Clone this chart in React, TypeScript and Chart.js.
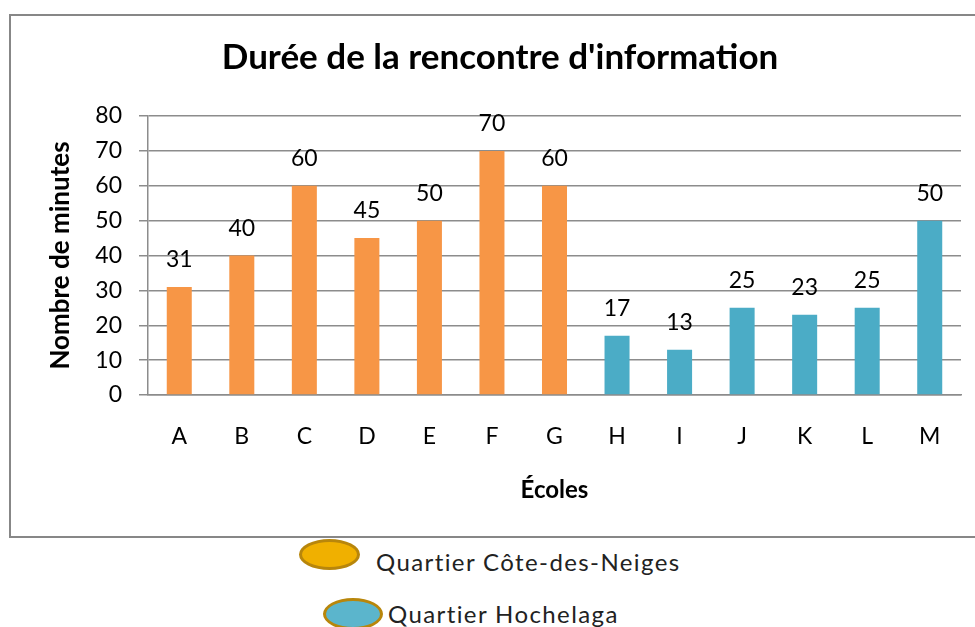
import React, { useEffect, useRef } from 'react';
import { Chart, registerables } from 'chart.js';

Chart.register(...registerables);

const schools = ['A', 'B', 'C', 'D', 'E', 'F', 'G', 'H', 'I', 'J', 'K', 'L', 'M'];
const coteDesNeiges = [31, 40, 60, 45, 50, 70, 60, null, null, null, null, null, null];
const hochelaga = [null, null, null, null, null, null, null, 17, 13, 25, 23, 25, 50];
const seriesNames = ['Quartier Côte-des-Neiges', 'Quartier Hochelaga'];
const chartTitle = "Durée de la rencontre d'information";
const yAxisTitle = 'Nombre de minutes';
const xAxisTitle = 'Écoles';
const yMin = 0;
const yMax = 80;
const yStep = 10;

const FONT = 'Lato, "Open Sans", sans-serif';
const GRID = '#8c8c8c';

const valueLabels = {
  id: 'valueLabels',
  afterDatasetsDraw(chart: any) {
    const ctx = chart.ctx;
    ctx.save();
    ctx.font = `23px ${FONT}`;
    ctx.fillStyle = '#000';
    ctx.textAlign = 'center';
    ctx.textBaseline = 'middle';
    chart.data.datasets.forEach((ds: any, di: number) => {
      const meta = chart.getDatasetMeta(di);
      meta.data.forEach((el: any, i: number) => {
        const v = ds.data[i];
        if (v === null || v === undefined) return;
        ctx.fillText(String(v), el.x, el.y - 27);
      });
    });
    ctx.restore();
  },
};

export default function App() {
  const ref = useRef<HTMLCanvasElement>(null);

  useEffect(() => {
    if (!ref.current) return;
    const chart = new Chart(ref.current, {
      type: 'bar',
      data: {
        labels: schools,
        datasets: [
          {
            label: seriesNames[0],
            data: coteDesNeiges,
            backgroundColor: '#F79646',
            categoryPercentage: 0.8,
            barPercentage: 0.5,
            skipNull: true,
          } as any,
          {
            label: seriesNames[1],
            data: hochelaga,
            backgroundColor: '#4BACC6',
            categoryPercentage: 0.8,
            barPercentage: 0.5,
            skipNull: true,
          } as any,
        ],
      },
      options: {
        responsive: false,
        animation: false,
        layout: { padding: { left: 29, right: 29, top: 0, bottom: 0 } },
        plugins: {
          legend: { display: false },
          tooltip: { enabled: false },
          title: {
            display: true,
            text: chartTitle,
            color: '#000',
            font: { family: FONT, size: 35, weight: 'bold', lineHeight: 1.2 },
            padding: { top: 22, bottom: 37 },
          },
        },
        scales: {
          x: {
            grid: { display: false, drawTicks: false },
            border: { display: true, color: GRID, width: 1.5 },
            ticks: {
              color: '#000',
              font: { family: FONT, size: 23, lineHeight: 1.2 },
              padding: 27.7,
            },
            title: {
              display: true,
              text: xAxisTitle,
              color: '#000',
              font: { family: FONT, size: 24, weight: 'bold', lineHeight: 1.2 },
              padding: { top: 0, bottom: 32.6 },
            },
            afterFit: (s: any) => {
              s.height = 142;
            },
          },
          y: {
            min: yMin,
            max: yMax,
            grid: { color: GRID, lineWidth: 1.5, drawTicks: true, tickLength: 9 },
            border: { display: true, color: GRID, width: 1.5 },
            ticks: {
              stepSize: yStep,
              color: '#000',
              font: { family: FONT, size: 23, lineHeight: 1.2 },
              padding: 17,
            },
            title: {
              display: true,
              text: yAxisTitle,
              color: '#000',
              font: { family: FONT, size: 26, weight: 'bold', lineHeight: 1.2 },
              padding: { top: 6.4, bottom: 0 },
            },
            afterFit: (s: any) => {
              s.width = 109;
            },
          },
        },
      } as any,
      plugins: [valueLabels],
    });
    return () => chart.destroy();
  }, []);

  const legendText: React.CSSProperties = {
    position: 'absolute',
    fontFamily: FONT,
    fontSize: 24,
    letterSpacing: '1.4px',
    color: '#222',
    whiteSpace: 'nowrap',
    lineHeight: '28px',
  };

  return (
    <div
      style={{
        position: 'fixed',
        left: 0,
        top: 0,
        width: 975,
        height: 627,
        overflow: 'hidden',
        background: '#fff',
      }}
    >
      <div
        style={{
          position: 'absolute',
          left: 9,
          top: 14,
          width: 1000,
          height: 524,
          boxSizing: 'border-box',
          border: '2px solid #878787',
        }}
      />
      <canvas
        ref={ref}
        width={980}
        height={522}
        style={{ position: 'absolute', left: 10, top: 15, width: 980, height: 522 }}
      />
      <div
        style={{
          position: 'absolute',
          left: 299,
          top: 539,
          width: 61,
          height: 31,
          boxSizing: 'border-box',
          borderRadius: '50%',
          background: '#F0B000',
          border: '3px solid #B8860B',
        }}
      />
      <div style={{ ...legendText, left: 376, top: 548 }}>{seriesNames[0]}</div>
      <div
        style={{
          position: 'absolute',
          left: 323,
          top: 598,
          width: 60,
          height: 32,
          boxSizing: 'border-box',
          borderRadius: '50%',
          background: '#5BB5CC',
          border: '3px solid #B8860B',
        }}
      />
      <div style={{ ...legendText, left: 388, top: 600 }}>{seriesNames[1]}</div>
    </div>
  );
}
